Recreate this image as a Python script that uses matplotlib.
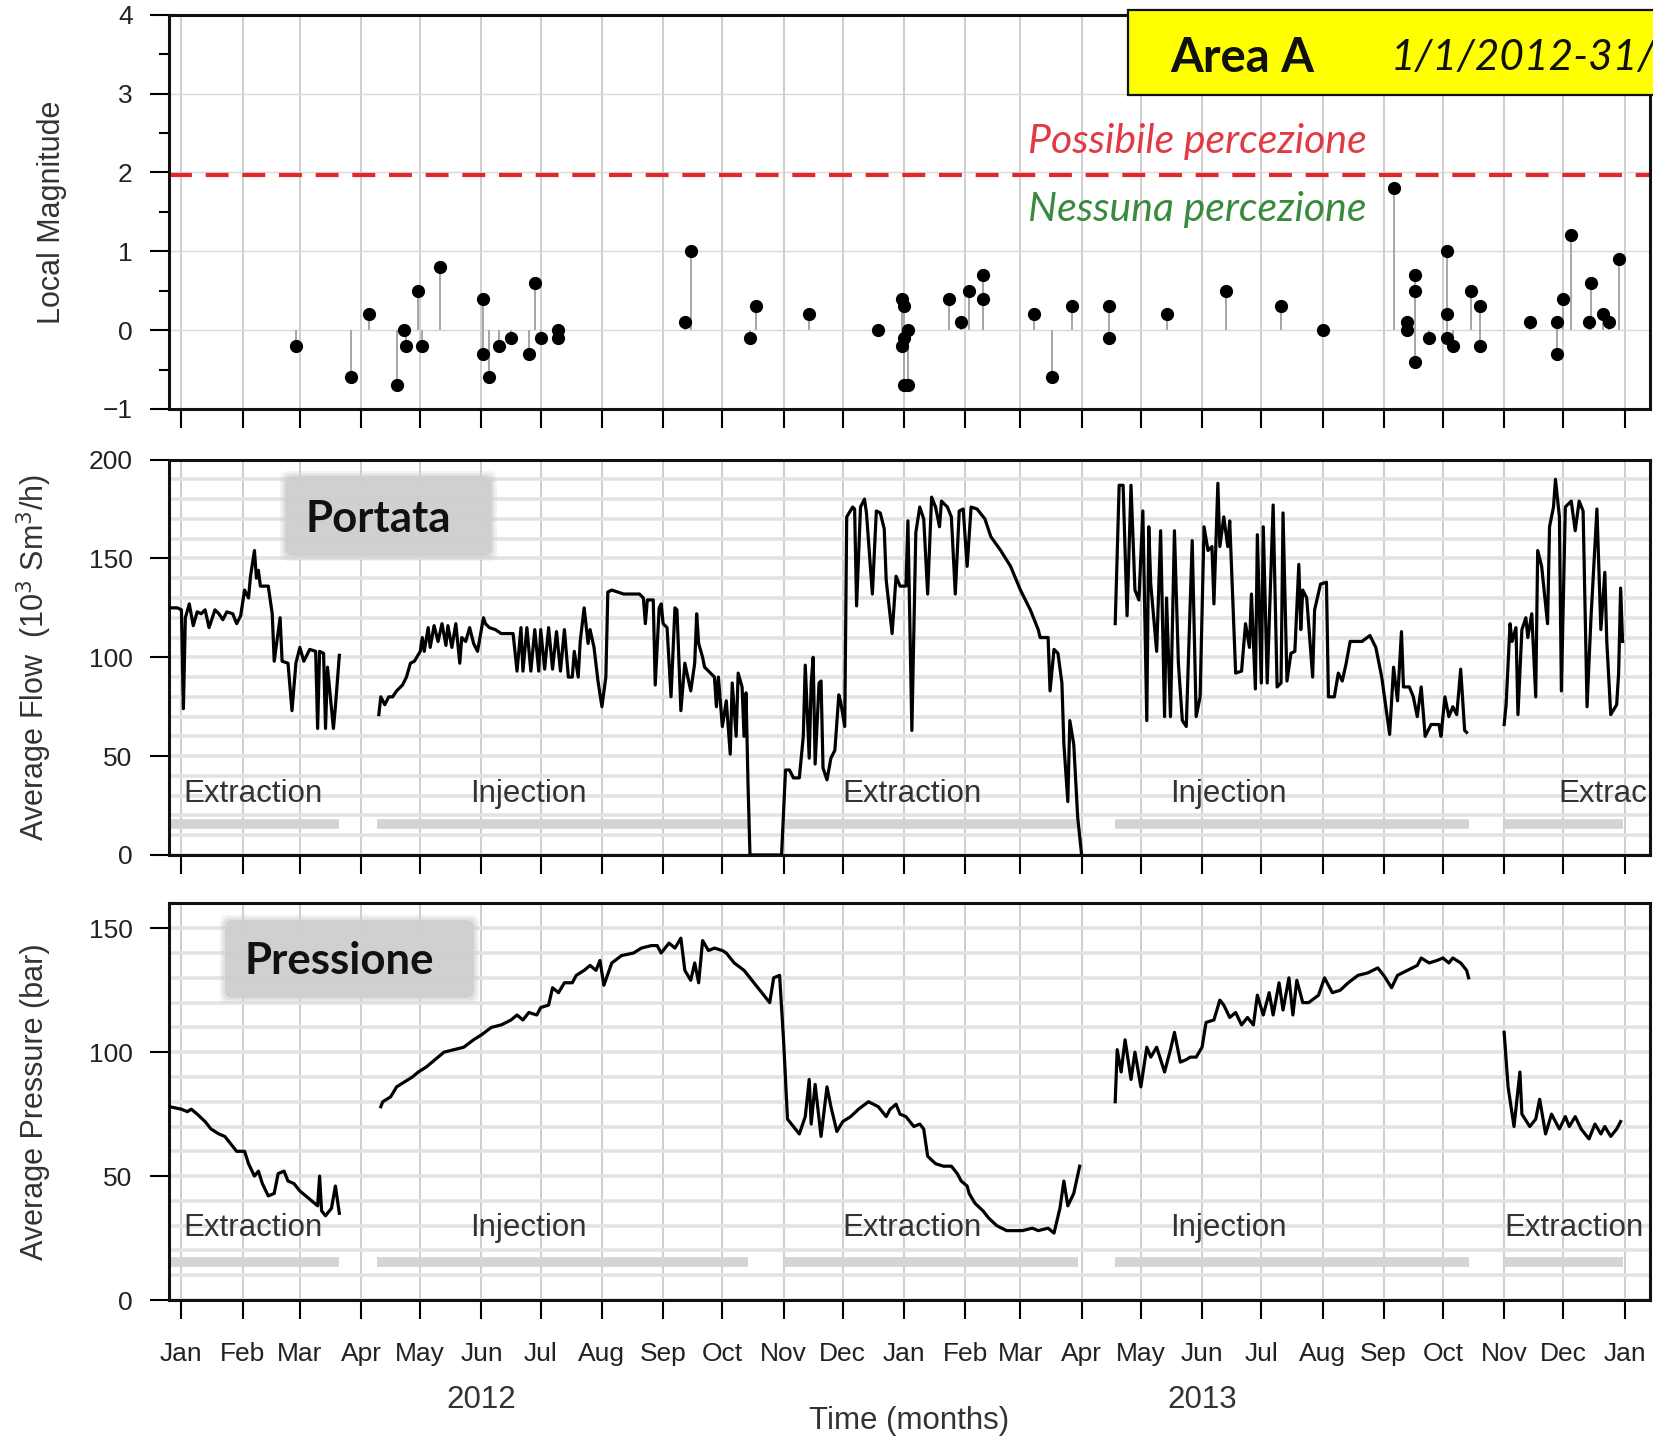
#!/usr/bin/env python
# -*- coding: utf-8 -*-
"""
Area A - sismicita' locale, portata e pressione del campo di stoccaggio
(1/1/2012 - 31/12/2013). Valori letti a mano dal grafico originale.
"""

import numpy as np
import pandas as pd
import matplotlib
matplotlib.use('Agg')
import matplotlib.pyplot as plt
import matplotlib.dates as mdates
from matplotlib.ticker import MultipleLocator
from matplotlib.patches import Rectangle, FancyBboxPatch
from matplotlib.transforms import blended_transform_factory

nan = np.nan
BASE = pd.Timestamp('2012-01-01')

# Tutti i tempi sono in giorni dal 2012-01-01

# Eventi sismici (magnitudo locale)
eq_day = [58, 86, 95, 109, 113, 114, 120, 122, 131,
          153, 153, 156, 161, 167, 176, 179, 182, 191, 191,
          255, 258, 288, 291, 318,
          353, 365, 366, 366, 365, 368, 366, 368,
          389, 395, 399, 406, 406, 432, 441, 451,
          470, 470, 499, 529, 557, 578,
          614, 621, 621, 625, 625, 625, 632,
          641, 641, 641, 644, 653, 658, 658,
          683, 697, 697, 700, 704, 713, 714, 720, 723, 728]
eq_mag = [-0.2, -0.6, 0.2, -0.7, 0.0, -0.2, 0.5, -0.2, 0.8,
          -0.3, 0.4, -0.6, -0.2, -0.1, -0.3, 0.6, -0.1, 0.0, -0.1,
          0.1, 1.0, -0.1, 0.3, 0.2,
          0.0, 0.4, 0.3, -0.1, -0.2, 0.0, -0.7, -0.7,
          0.4, 0.1, 0.5, 0.7, 0.4, 0.2, -0.6, 0.3,
          0.3, -0.1, 0.2, 0.5, 0.3, 0.0,
          1.8, 0.1, 0.0, 0.7, 0.5, -0.4, -0.1,
          1.0, 0.2, -0.1, -0.2, 0.5, 0.3, -0.2,
          0.1, 0.1, -0.3, 0.4, 1.2, 0.1, 0.6, 0.2, 0.1, 0.9]

# Portata media (10^3 Sm3/h); nan = interruzione della serie
flow_day = [-6, -2, 0, 1, 2, 4, 6, 8, 10, 12, 14, 17, 19, 21, 23, 26, 28, 30,
            32, 34, 35, 37, 38, 39, 40, 44, 46, 47, 50, 51, 54, 56, 58, 60,
            62, 65, 68, 69, 70, 72, 73, 74, 77, 78, 80, 80,
            100, 101, 103, 105, 107, 109, 112, 114, 116, 118, 121, 122, 123,
            125, 126, 128, 130, 132, 134, 135, 137, 139, 141, 142, 144, 146,
            148, 150, 153, 154, 156, 159, 162, 168, 170, 172, 173, 175, 177,
            179, 181, 182, 184, 186, 188, 190, 192, 194, 196, 198, 199, 201,
            202, 204, 206, 207, 209, 211, 213, 215, 216, 218, 224, 232, 234,
            235, 236, 239, 240, 242, 243, 244, 246, 248, 250, 251, 253, 255,
            258, 260, 261, 262, 264, 265, 268, 270, 271, 272, 274, 276, 278,
            279, 281, 282, 284, 285, 286, 287, 288, 304,
            306, 308, 310, 313, 315, 316, 318, 319, 320, 321, 323, 324, 325,
            327, 329, 331, 333, 334, 336, 337, 340, 341, 342, 344, 346, 347,
            350, 352, 354, 356, 357, 360, 362, 364, 367, 368, 370, 372, 374,
            376, 378, 380, 382, 384, 385, 388, 390, 392, 394, 396, 398, 400,
            403, 407, 410, 415, 420, 425, 430, 434, 435, 439, 440, 442, 444,
            446, 447, 449, 450, 452, 454, 456, 456,
            473, 475, 477, 479, 481, 483, 485, 487, 489, 490, 491, 494, 496,
            498, 499, 501, 503, 505, 507, 509, 512, 514, 516, 518, 520, 522,
            523, 525, 526, 528, 530, 531, 534, 537, 539, 541, 542, 544, 545,
            547, 548, 550, 553, 555, 557, 558, 560, 562, 564, 566, 567, 568,
            570, 573, 574, 577, 580, 581, 584, 586, 588, 590, 592, 598, 602,
            605, 608, 612, 614, 616, 618, 619, 622, 624, 626, 628, 630, 633,
            637, 638, 640, 642, 644, 646, 648, 650, 651, 651,
            670, 671, 673, 674, 676, 677, 679, 681, 682, 684, 686, 687, 689,
            692, 693, 695, 696, 698, 699, 701, 704, 706, 708, 710, 712, 714,
            717, 719, 721, 722, 724, 727, 728, 729, 730]
flow_val = [125, 125, 124, 74, 120, 127, 116, 123, 122, 124, 115, 124, 122, 119,
            123, 122, 117, 121, 134, 130, 141, 154, 140, 144, 136, 136, 122, 98,
            120, 98, 97, 73, 97, 105, 98, 104, 103, 64, 103, 102, 64, 95, 64,
            75, 101, nan,
            71, 80, 76, 80, 80, 83, 86, 90, 97, 98, 103, 110, 103,
            115, 105, 116, 108, 117, 106, 116, 105, 117, 97, 110, 108, 115,
            107, 103, 120, 117, 115, 114, 112, 112, 93, 115, 93, 115, 93,
            114, 93, 114, 94, 115, 94, 113, 93, 114, 90, 90, 103, 90,
            108, 125, 107, 114, 105, 88, 75, 90, 133, 134, 132, 132, 130,
            117, 129, 129, 86, 125, 127, 117, 115, 80, 125, 124, 73, 97,
            83, 97, 122, 107, 100, 95, 92, 90, 75, 90, 65, 78, 51,
            87, 60, 92, 85, 60, 82, 36, 0, 0,
            43, 43, 39, 39, 60, 96, 49, 87, 100, 46, 87, 88, 44,
            38, 49, 53, 81, 77, 65, 171, 176, 175, 126, 176, 180, 173,
            132, 174, 173, 165, 139, 112, 141, 136, 136, 169, 63, 163, 176,
            170, 132, 181, 176, 166, 179, 176, 171, 132, 174, 175, 146, 176,
            175, 170, 161, 154, 146, 134, 124, 114, 110, 110, 83, 104, 102,
            87, 56, 27, 68, 56, 19, 0, nan,
            117, 187, 187, 121, 187, 134, 129, 174, 68, 166, 137, 103, 164,
            70, 130, 70, 164, 97, 68, 65, 159, 70, 80, 166, 154, 156,
            127, 188, 156, 171, 156, 169, 92, 93, 117, 105, 132, 84, 162,
            87, 166, 87, 177, 85, 87, 173, 88, 102, 103, 147, 114, 134,
            130, 90, 124, 137, 138, 80, 80, 92, 88, 97, 108, 108, 111,
            105, 90, 61, 95, 78, 113, 85, 85, 80, 70, 85, 60, 66,
            66, 60, 80, 70, 75, 71, 94, 63, 62, nan,
            66, 76, 117, 108, 115, 71, 114, 120, 110, 122, 80, 154, 146,
            117, 166, 176, 190, 171, 83, 176, 179, 164, 179, 174, 75, 120,
            175, 114, 143, 108, 71, 76, 92, 135, 108]

# Pressione media (bar)
pres_day = [-6, 0, 3, 5, 8, 12, 15, 19, 22, 25, 28, 32, 34, 37, 39, 41, 44, 47,
            49, 52, 54, 57, 60, 63, 66, 69, 70, 71, 73, 76, 78, 80, 80,
            101, 102, 106, 109, 113, 117, 120, 124, 127, 130, 133, 138, 143,
            148, 152, 157, 162, 167, 170, 173, 176, 180, 182, 186, 188, 191,
            194, 198, 200, 204, 207, 210, 212, 214, 218, 223, 229, 233, 238,
            241, 243, 247, 250, 253, 255, 258, 260, 262, 264, 267, 270, 274,
            276, 280, 285, 290, 294, 298, 300, 303, 305, 307, 310, 313, 316,
            318, 319, 321, 324, 327, 329, 332, 335, 339, 343, 348, 353, 357,
            359, 362, 364, 367, 371, 374, 376, 378, 382, 386, 390, 393, 395,
            398, 399, 402, 406, 409, 413, 418, 426, 431, 434, 439, 442, 445,
            447, 449, 452, 455, 455,
            473, 474, 476, 478, 481, 483, 486, 489, 491, 494, 498, 501, 503,
            506, 509, 511, 514, 517, 519, 523, 526, 528, 531, 534, 537, 540,
            543, 545, 548, 551, 553, 556, 558, 561, 563, 565, 568, 571, 576,
            579, 583, 587, 591, 596, 601, 606, 609, 613, 616, 621, 626, 628,
            632, 636, 639, 642, 644, 648, 651, 652, 652,
            670, 672, 675, 678, 679, 683, 686, 688, 691, 694, 698, 701, 703,
            706, 709, 713, 716, 719, 721, 724, 727, 729]
pres_val = [78, 77, 76, 77, 75, 72, 69, 67, 66, 63, 60, 60, 55, 50, 52, 47, 42,
            43, 51, 52, 48, 47, 44, 42, 40, 38, 50, 36, 34, 37, 46, 35, nan,
            78, 80, 82, 86, 88, 90, 92, 94, 96, 98, 100, 101, 102,
            105, 107, 110, 111, 113, 115, 113, 116, 115, 118, 119, 126, 124,
            128, 128, 131, 133, 135, 133, 137, 127, 136, 139, 140, 142, 143,
            143, 140, 144, 142, 146, 133, 129, 136, 128, 145, 141, 142, 141,
            140, 136, 133, 128, 124, 120, 130, 131, 105, 73, 70, 67, 74,
            89, 71, 87, 66, 86, 78, 68, 72, 74, 77, 80, 78, 74,
            77, 79, 75, 74, 70, 71, 69, 58, 55, 54, 54, 51, 48,
            46, 43, 39, 36, 33, 30, 28, 28, 29, 28, 29, 27, 37,
            48, 38, 43, 54, nan,
            80, 101, 92, 105, 89, 100, 86, 102, 98, 102, 92, 101, 108,
            96, 97, 98, 98, 102, 112, 113, 121, 119, 114, 116, 111, 114,
            111, 123, 115, 124, 115, 128, 117, 130, 115, 129, 120, 120, 123,
            130, 124, 125, 128, 131, 132, 134, 131, 126, 131, 133, 135, 138,
            136, 137, 138, 136, 138, 136, 133, 130, nan,
            108, 86, 70, 92, 75, 70, 73, 81, 67, 75, 69, 74, 70,
            74, 69, 65, 71, 67, 70, 66, 69, 72]

# Fasi di esercizio dello stoccaggio
phase_start = [-7, 99, 305, 473, 670]
phase_end = [80, 287, 454, 652, 730]
# etichette come compaiono nei due pannelli (l'ultima e' tagliata nel pannello della portata)
flow_phase_label = ['Extraction', 'Injection', 'Extraction', 'Injection', 'Extrac']
pres_phase_label = ['Extraction', 'Injection', 'Extraction', 'Injection', 'Extraction']

W, H = 1653, 1440
SANS = ['Liberation Sans', 'DejaVu Sans']
CAL = ['Lato', 'DejaVu Sans']
plt.rcParams['font.family'] = SANS


def to_dt(days):
    return BASE + pd.to_timedelta(np.asarray(days, dtype=float), unit='D')


def day(d):
    return BASE + pd.Timedelta(days=d)


def px(x, y):
    """pixel (origine in alto a sinistra) -> pollici della figura"""
    return x / 100.0, (H - y) / 100.0


def style_axis(ax):
    ax.set_xlim(day(-6.4), day(743.9))
    ax.xaxis.set_major_locator(mdates.MonthLocator())
    ax.xaxis.set_major_formatter(mdates.DateFormatter('%b'))
    ax.tick_params(axis='both', which='major', direction='out', length=14,
                   width=1.5, color='black', labelcolor='#222222',
                   labelsize=19)
    ax.tick_params(axis='y', which='major', pad=12)
    ax.tick_params(axis='x', which='major', pad=16)
    for s in ax.spines.values():
        s.set_linewidth(2.2)
        s.set_color('#111111')
    ax.grid(axis='x', which='major', color='#c6c6c6', lw=1.2)
    ax.set_axisbelow(True)


def phase_bars(ax, y, label_y, labels, label_days):
    for start, end in zip(phase_start, phase_end):
        ax.plot([day(start), day(end)], [y, y], color='#d4d4d4', lw=7,
                solid_capstyle='butt', zorder=1.5)
    for name, d in zip(labels, label_days):
        ax.text(day(d), label_y, name, fontsize=22.5, color='#333333',
                ha='left', va='center', zorder=3)


def soft_box(fig, x0, y0, x1, y1, label, tx, ty):
    tr = fig.dpi_scale_trans
    for grow, a in [(5, 0.25), (2.5, 0.45), (0, 0.9)]:
        bx, by = px(x0 - grow, y1 + grow)
        fig.patches.append(FancyBboxPatch(
            (bx, by), (x1 - x0 + 2 * grow) / 100.0, (y1 - y0 + 2 * grow) / 100.0,
            boxstyle='round,pad=0,rounding_size=0.08', transform=tr,
            facecolor='#cfcfcf', edgecolor='none', alpha=a, zorder=5))
    fig.text(*px(tx, ty), label, transform=tr, family=CAL, weight='bold',
             fontsize=31.5, color='#111111', ha='center', va='center', zorder=6)


fig = plt.figure(figsize=(W / 100, H / 100), dpi=100)
ax1 = fig.add_axes([0.1021, 0.716, 0.8961, 0.2738])
ax2 = fig.add_axes([0.1021, 0.40625, 0.8961, 0.2746])
ax3 = fig.add_axes([0.1021, 0.0972, 0.8961, 0.2754])

# --- Pannello 1: magnitudo locale ---
style_axis(ax1)
ax1.set_ylim(-1, 4)
ax1.yaxis.set_major_locator(MultipleLocator(1))
ax1.yaxis.set_minor_locator(MultipleLocator(0.5))
ax1.tick_params(axis='y', which='minor', direction='out', length=7, width=1.5)
ax1.grid(axis='y', which='major', color='#d8d8d8', lw=1.0)
ax1.tick_params(axis='x', labelbottom=False)
ax1.vlines(to_dt(eq_day), 0, eq_mag, colors='#a6a6a6', lw=1.4, zorder=2)
ax1.plot(to_dt(eq_day), eq_mag, 'o', color='black', ms=8.5, zorder=3)
ax1.axhline(1.97, color='#e2262b', lw=3, dashes=(5.5, 3.3), zorder=2.5)
ax1.text(0.580, 2.39, 'Possibile percezione', transform=ax1.get_yaxis_transform(),
         family=CAL, style='italic', fontsize=29.5, color='#e23a44',
         ha='left', va='center')
ax1.text(0.580, 1.53, 'Nessuna percezione', transform=ax1.get_yaxis_transform(),
         family=CAL, style='italic', fontsize=29.5, color='#3a8a3e',
         ha='left', va='center')
ax1.set_ylabel('Local Magnitude', fontsize=22, color='#333333')
ax1.yaxis.set_label_coords(-0.0786, 0.5)
ax1.yaxis.label.set_verticalalignment('center')

# riquadro giallo del titolo (tagliato a destra come nell'originale)
tr = fig.dpi_scale_trans
fig.patches.append(Rectangle(px(1128, 95), 6.0, 0.845, transform=tr,
                             facecolor='#ffff00', edgecolor='#111111',
                             lw=1.6, zorder=10))
fig.text(*px(1170, 58), 'Area A', transform=tr, family=CAL, weight='bold',
         fontsize=34, color='#111111', ha='left', va='center', zorder=11)
fig.text(*px(1391, 58), '1/1/2012-31/', transform=tr, family=CAL,
         style='italic', fontsize=30.5, color='#111111', ha='left', va='center',
         zorder=11)

# --- Pannello 2: portata ---
style_axis(ax2)
ax2.set_ylim(0, 200)
ax2.yaxis.set_major_locator(MultipleLocator(50))
ax2.yaxis.set_minor_locator(MultipleLocator(10))
ax2.tick_params(axis='y', which='minor', length=0)
ax2.grid(axis='y', which='both', color='#e3e3e3', lw=2.6)
ax2.tick_params(axis='x', labelbottom=False)
phase_bars(ax2, 15.5, 31, flow_phase_label, [1, 146, 335, 501, 697.5])
ax2.plot(to_dt(flow_day), flow_val, color='black', lw=2.3, zorder=4)
ax2.set_ylabel('Average Flow  (10$^3$ Sm$^3$/h)', fontsize=22, color='#333333')
ax2.yaxis.set_label_coords(-0.0905, 0.5)
ax2.yaxis.label.set_verticalalignment('center')
soft_box(fig, 285, 476, 492, 556, 'Portata', 378, 519)

# --- Pannello 3: pressione ---
style_axis(ax3)
ax3.set_ylim(0, 160)
ax3.yaxis.set_major_locator(MultipleLocator(50))
ax3.yaxis.set_minor_locator(MultipleLocator(10))
ax3.tick_params(axis='y', which='minor', length=0)
ax3.grid(axis='y', which='both', color='#e3e3e3', lw=2.6)
phase_bars(ax3, 15.4, 29, pres_phase_label, [1, 146, 335, 501, 670])
ax3.plot(to_dt(pres_day), pres_val, color='black', lw=2.3, zorder=4)
ax3.set_ylabel('Average Pressure (bar)', fontsize=22, color='#333333')
ax3.yaxis.set_label_coords(-0.0905, 0.5)
ax3.yaxis.label.set_verticalalignment('center')
soft_box(fig, 225, 920, 474, 998, 'Pressione', 339, 961)

# anni e titolo dell'asse dei tempi
yr_tr = blended_transform_factory(ax3.transData, ax3.transAxes)
for yr in ['2012', '2013']:
    ax3.text(pd.Timestamp(yr + '-06-01'), -0.252, yr, transform=yr_tr,
             fontsize=22.5, color='#333333', ha='center', va='center')
ax3.set_xlabel('Time (months)', fontsize=22.5, color='#333333')
ax3.xaxis.set_label_coords(0.5, -0.305)
ax3.xaxis.label.set_verticalalignment('center')

fig.savefig('out.png', dpi=100)
